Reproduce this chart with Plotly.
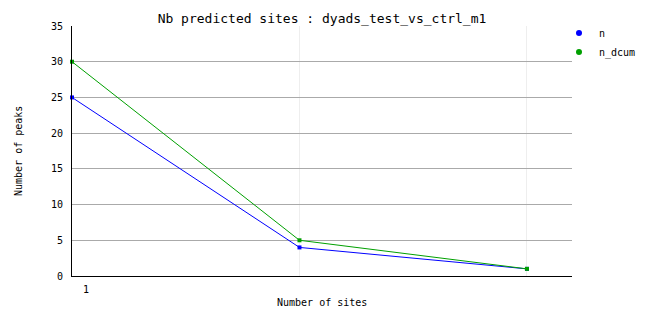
import plotly.graph_objects as go

x_sites = [1, 2, 3]
n_values = [25, 4, 1]
n_dcum_values = [30, 5, 1]
series_names = ["n", "n_dcum"]
series_colors = ["#0000ff", "#00a000"]
x_tick_vals = [1, 2, 3]
x_tick_text = ["1", "", ""]
y_tick_vals = [0, 5, 10, 15, 20, 25, 30, 35]

FONT = "DejaVu Sans Mono"

fig = go.Figure()
for name, vals, col in zip(series_names, [n_values, n_dcum_values], series_colors):
    fig.add_trace(go.Scatter(
        x=x_sites, y=vals, mode="lines+markers", name=name,
        line=dict(color=col, width=1),
        marker=dict(symbol="square", size=4, color=col),
        showlegend=False, cliponaxis=False,
    ))
for name, col in zip(series_names, series_colors):
    fig.add_trace(go.Scatter(
        x=[None], y=[None], mode="markers", name=name,
        marker=dict(symbol="circle", size=6, color=col),
        showlegend=True,
    ))

fig.update_layout(
    width=662, height=328,
    margin=dict(l=72, r=90, t=26, b=52),
    paper_bgcolor="white", plot_bgcolor="white",
    font=dict(family=FONT, size=10, color="black"),
    title=dict(text="Nb predicted sites : dyads_test_vs_ctrl_m1",
               font=dict(family=FONT, size=13, color="black"),
               x=0.5, xref="paper", xanchor="center",
               y=1 - 18 / 328, yref="container", yanchor="middle"),
    legend=dict(x=0.974, xanchor="left", y=1.03, yanchor="top",
                font=dict(family=FONT, size=10), bgcolor="rgba(0,0,0,0)",
                itemwidth=30, tracegroupgap=0),
    showlegend=True,
    xaxis=dict(range=[1, 3.198], tickvals=x_tick_vals, ticktext=x_tick_text,
               showgrid=True, gridcolor="#eeeeee", gridwidth=1,
               showline=True, linecolor="black", linewidth=1,
               ticks="", zeroline=False, ticklabelshift=14, ticklabelstandoff=4,
               tickfont=dict(family=FONT, size=10)),
    yaxis=dict(range=[0, 35], tickvals=y_tick_vals,
               showgrid=True, gridcolor="#aaaaaa", gridwidth=1,
               showline=True, linecolor="black", linewidth=1,
               ticks="", zeroline=False, ticklabelstandoff=6,
               tickfont=dict(family=FONT, size=10)),
    annotations=[
        dict(text="Number of sites", xref="paper", yref="paper",
             x=0.5, y=-26 / 250, yanchor="middle", xanchor="center",
             showarrow=False, font=dict(family=FONT, size=10)),
        dict(text="Number of peaks", xref="paper", yref="paper",
             x=-54 / 500, y=0.5, xanchor="center", yanchor="middle",
             textangle=-90, showarrow=False, font=dict(family=FONT, size=10)),
    ],
)

fig.write_html("out.html")
